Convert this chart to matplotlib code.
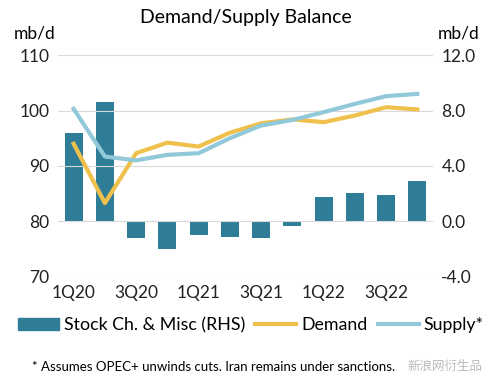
import matplotlib.pyplot as plt
import numpy as np
from matplotlib.patches import Patch
from matplotlib.lines import Line2D

quarters = ["1Q20", "2Q20", "3Q20", "4Q20", "1Q21", "2Q21",
            "3Q21", "4Q21", "1Q22", "2Q22", "3Q22", "4Q22"]
stock_change = [6.4, 8.6, -1.2, -2.0, -0.95, -1.1, -1.2, -0.35, 1.75, 2.05, 1.9, 2.9]
demand = [94.0, 83.3, 92.3, 94.2, 93.5, 96.0, 97.7, 98.4, 97.9, 99.1, 100.6, 100.2]
supply = [100.3, 91.7, 91.0, 92.0, 92.3, 95.0, 97.3, 98.3, 99.7, 101.2, 102.6, 103.0]

left_ticks = [70, 80, 90, 100, 110]
right_ticks = [-4.0, 0.0, 4.0, 8.0, 12.0]

bar_color = "#2F7D96"
demand_color = "#F0C04C"
supply_color = "#92C9DA"

plt.rcParams["font.family"] = ["Lato", "DejaVu Sans"]

fig = plt.figure(figsize=(5, 3.75), dpi=100)
ax = fig.add_axes([0.116, 0.262, 0.75, 0.591])
ax2 = ax.twinx()

x = np.arange(len(quarters))

# bars on the right axis, behind the lines
ax2.bar(x, stock_change, width=0.57, color=bar_color)
ax2.set_ylim(-4, 12)
ax2.set_yticks(right_ticks)
ax2.set_yticklabels([f"{t:.1f}" for t in right_ticks], fontsize=12.5)

ax.plot(x, demand, color=demand_color, linewidth=3)
ax.plot(x, supply, color=supply_color, linewidth=3)
ax.set_ylim(70, 110)
ax.set_yticks(left_ticks)
ax.set_yticklabels([str(t) for t in left_ticks], fontsize=12.5)
ax.set_xlim(-0.5, 11.5)
ax.set_xticks(x[::2])
ax.set_xticklabels(quarters[::2], fontsize=12.5)
ax.grid(True, axis="y", color="#d9d9d9", linewidth=0.8)
ax.set_axisbelow(True)

ax.set_zorder(ax2.get_zorder() + 1)
ax.patch.set_visible(False)

for a in (ax, ax2):
    for s in a.spines.values():
        s.set_visible(False)
    a.tick_params(length=0, pad=6, colors="#222222")

fig.text(0.492, 0.953, "Demand/Supply Balance", ha="center", va="center", fontsize=14)
fig.text(0.07, 0.91, "mb/d", ha="center", va="center", fontsize=12.5)
fig.text(0.918, 0.91, "mb/d", ha="center", va="center", fontsize=12.5)

handles = [
    Patch(color=bar_color, label="Stock Ch. & Misc (RHS)"),
    Line2D([0], [0], color=demand_color, linewidth=3, label="Demand"),
    Line2D([0], [0], color=supply_color, linewidth=3, label="Supply*"),
]
fig.legend(handles=handles, loc="center", bbox_to_anchor=(0.502, 0.133), ncol=3,
           frameon=False, fontsize=12.8, handlelength=2.3, columnspacing=0.55,
           handletextpad=0.3)

fig.text(0.064, 0.022, "* Assumes OPEC+ unwinds cuts. Iran remains under sanctions.",
         ha="left", va="center", fontsize=9.5)
fig.text(0.965, 0.022, "新浪网衍生品", ha="right", va="center", fontsize=9,
         color="#bbbbbb", family=["Noto Sans CJK SC", "DejaVu Sans"])

fig.savefig("out.png", dpi=100)
